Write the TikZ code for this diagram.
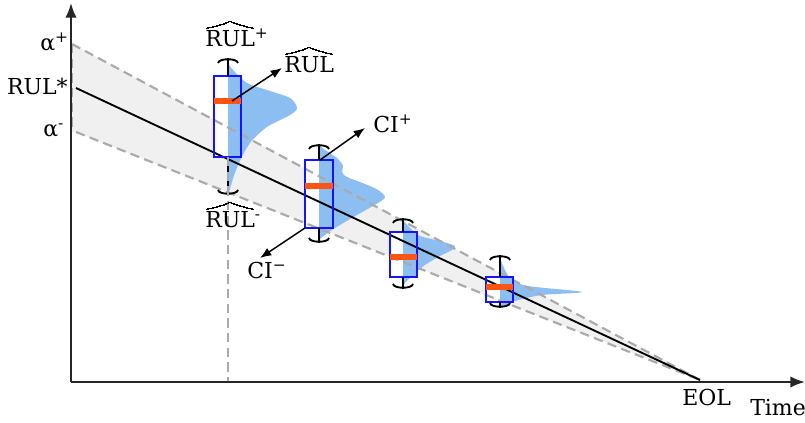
\documentclass[tikz,border=0pt]{standalone}
\usepackage{fontspec}
\setmainfont{DejaVu Serif}
\usetikzlibrary{arrows.meta}
\definecolor{bandgray}{RGB}{240,240,240}
\definecolor{dashgray}{RGB}{170,170,170}
\definecolor{violinblue}{RGB}{140,190,242}
\definecolor{boxblue}{RGB}{20,20,255}
\definecolor{medorange}{RGB}{255,85,20}
% wide hat over a word
\newcommand{\hatted}[1]{\setbox0\hbox{#1}\vbox{\offinterlineskip\hbox{\setlength{\unitlength}{\wd0}\linethickness{1pt}\begin{picture}(1,0.14)\qbezier(0.03,0)(0.3,0.05)(0.5,0.14)\qbezier(0.5,0.14)(0.7,0.05)(0.97,0)\end{picture}}\kern2pt\box0}}

\begin{document}
\begin{tikzpicture}[x=0.75pt,y=-0.75pt,>={Latex[length=8.5pt,width=6.5pt]},
  band/.style={fill=bandgray},
  bandline/.style={dashgray,line width=1.6pt,dash pattern=on 7pt off 4pt},
  rulline/.style={line width=1.4pt},
  axis/.style={black!85,line width=1.5pt,-{Latex[length=11pt,width=8.5pt]}},
  violin/.style={fill=violinblue},
  boxline/.style={draw=boxblue,line width=1.9pt},
  median/.style={medorange,line width=4.8pt},
  whisker/.style={line width=1.4pt},
  pointer/.style={line width=1.1pt,->},
  lbl/.style={font=\fontsize{16.5}{20}\selectfont,inner sep=0pt}]
\useasboundingbox (0,0) rectangle (805,423);
\coordinate (o) at (71,382);
\coordinate (ytop) at (71,3);
\coordinate (xend) at (805,382);
\coordinate (ap) at (72,44);
\coordinate (am) at (76,132);
\coordinate (rs) at (76,88);
\coordinate (eol) at (700,380);

% band between alpha+ and alpha-
\fill[band] (ap) -- (eol) -- (am) -- (72,132) -- cycle;

% boxes and distributions
\fill[white] (214,76) rectangle (241,157);
\fill[violin] (228,76) rectangle (241,157);
\fill[violin] plot[smooth] coordinates {(228,63) (233,70) (247,83) (267,90) (290,98) (297,108) (290,115) (267,127) (250,143) (238,165) (231,185) (228,197)} -- cycle;
\fill[white] (305,160) rectangle (333,228);
\fill[violin] (319,160) rectangle (333,228);
\fill[violin] plot[smooth] coordinates {(319,145) (325,150) (337,158) (343,166) (342,172) (347,177) (365,184) (378,190) (385,197) (378,203) (357,215) (335,228) (325,235) (319,240)} -- cycle;
\fill[white] (390,232) rectangle (417,277);
\fill[violin] (403,232) rectangle (417,277);
\fill[violin] plot[smooth] coordinates {(403,220) (410,228) (420,236) (440,241) (455,246) (452,250) (440,256) (425,265) (413,275) (405,283) (403,287)} -- cycle;
\fill[white] (486,277) rectangle (513,302);
\fill[violin] (500,277) rectangle (513,302);
\fill[violin] plot[smooth] coordinates {(500,258) (504,268) (511,279) (528,286) (582,292) (542,295) (515,301) (505,306) (500,308)} -- cycle;

% limits and true RUL
\draw[bandline] (ap) -- (eol);
\draw[bandline] (am) -- (eol);
\draw[bandline] (ap) -- (72,132);
\draw[rulline] (rs) -- (eol);

% box outlines, medians, whiskers
\draw[boxline] (214,76) rectangle (241,157);
\draw[median] (214,101) -- (241,101);
\draw[whisker] (228,58) -- (228,76) (228,157) -- (228,195);
\draw[whisker] (218,63) .. controls (219,58) and (237,58) .. (238,63);
\draw[whisker] (218,190) .. controls (219,195) and (237,195) .. (238,190);
\draw[boxline] (305,160) rectangle (333,228);
\draw[median] (305,186) -- (333,186);
\draw[whisker] (319,144) -- (319,160) (319,228) -- (319,243);
\draw[whisker] (309,149) .. controls (310,144) and (328,144) .. (329,149);
\draw[whisker] (309,238) .. controls (310,243) and (328,243) .. (329,238);
\draw[boxline] (390,232) rectangle (417,277);
\draw[median] (390,257) -- (417,257);
\draw[whisker] (403,218) -- (403,232) (403,277) -- (403,289);
\draw[whisker] (393,223) .. controls (394,218) and (412,218) .. (413,223);
\draw[whisker] (393,284) .. controls (394,289) and (412,289) .. (413,284);
\draw[boxline] (486,277) rectangle (513,302);
\draw[median] (486,287) -- (513,287);
\draw[whisker] (500,255) -- (500,277) (500,302) -- (500,308);
\draw[whisker] (490,260) .. controls (491,255) and (509,255) .. (510,260);
\draw[whisker] (490,303) .. controls (491,308) and (509,308) .. (510,303);

% projection of the first estimate
\draw[bandline] (228,157) -- (228,382);

% axes
\draw[axis] (o) -- (ytop);
\draw[axis] (o) -- (xend);

% labels
\node[lbl,anchor=base west] (lalphap) at (40,51) {α\textsuperscript{+}};
\node[lbl,anchor=base east] (lrulstar) at (68,95) {RUL*};
\node[lbl,anchor=base west] (lalpham) at (43,137) {α\textsuperscript{-}};
\node[lbl,anchor=base west] (lrulhatp) at (205,47) {\hatted{RUL}\textsuperscript{+}};
\node[lbl,anchor=base west] (lrulhat) at (284,73) {\hatted{RUL}};
\node[lbl,anchor=base west] (lrulhatm) at (205,228) {\hatted{RUL}\textsuperscript{-}};
\node[lbl,anchor=base west] (lcip) at (373,133) {CI\textsuperscript{+}};
\node[lbl,anchor=base west] (lcim) at (247,279) {CI\textsuperscript{−}};
\node[lbl,anchor=base west] (leol) at (682,405) {EOL};
\node[lbl,anchor=base west] (ltime) at (750,415) {Time};

% pointers
\coordinate (med1) at (232,101);
\coordinate (tiprul) at (282,68);
\coordinate (top2) at (320,160);
\coordinate (tipcip) at (365,128);
\coordinate (bot2) at (305,228);
\coordinate (tipcim) at (260,258);
\draw[pointer] (med1) -- (tiprul);
\draw[pointer] (top2) -- (tipcip);
\draw[pointer] (bot2) -- (tipcim);
\end{tikzpicture}
\end{document}
